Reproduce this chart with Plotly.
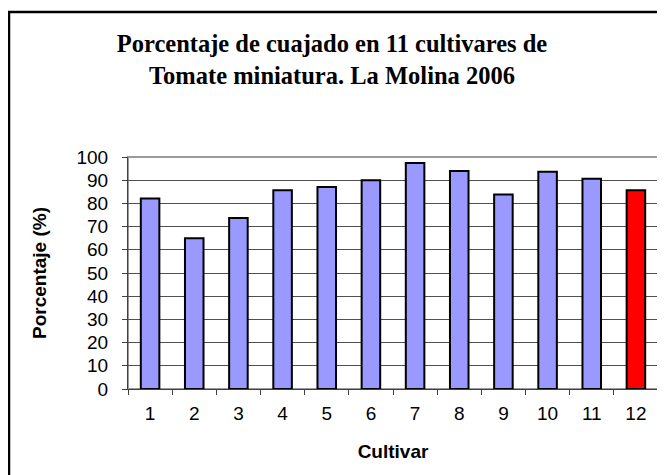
import plotly.graph_objects as go

cultivares = ["1", "2", "3", "4", "5", "6", "7", "8", "9", "10", "11", "12"]
porcentaje = [82.1, 65.0, 73.7, 85.7, 87.1, 90.0, 97.4, 94.0, 83.8, 93.6, 90.6, 85.7]
y_ticks = [0, 10, 20, 30, 40, 50, 60, 70, 80, 90, 100]

colors = ["#9999FF"] * (len(cultivares) - 1) + ["#FF0000"]

fig = go.Figure(
    go.Bar(
        x=cultivares,
        y=porcentaje,
        marker=dict(color=colors, line=dict(color="black", width=2)),
        width=0.42,
    )
)

# page has an 8px body margin; figure sized to fill the rest of the window
W, H = 657, 467
L, R, T, B = 120, 7, 149, 86
pw, ph = W - L - R, H - T - B

def px_to_paper_x(x):
    return (x - L) / pw

def px_to_paper_y(y):
    return (H - B - y) / ph

fig.update_layout(
    width=W,
    height=H,
    margin=dict(l=L, r=R, t=T, b=B, autoexpand=False),
    paper_bgcolor="white",
    plot_bgcolor="white",
    showlegend=False,
    title=dict(
        text="Porcentaje de cuajado en 11 cultivares de<br>Tomate miniatura. La Molina 2006",
        font=dict(family="Liberation Serif, Times New Roman, serif", size=24.5, color="black", weight="bold"),
        x=(332 - 8) / W,
        xref="container",
        xanchor="center",
        y=1 - 44 / H,
        yanchor="top",
    ),
    font=dict(family="Arial, Liberation Sans, sans-serif", color="black"),
    xaxis=dict(
        type="category",
        tickvals=cultivares,
        ticktext=cultivares,
        showline=True,
        linecolor="#404040",
        linewidth=1,
        ticks="outside",
        tickson="boundaries",
        ticklen=5,
        tickcolor="#404040",
        tickfont=dict(size=19),
        ticklabelstandoff=7,
        title=dict(text="<b>Cultivar</b>", font=dict(size=19), standoff=21),
        showgrid=False,
    ),
    yaxis=dict(
        range=[0, 100],
        tickvals=y_ticks,
        showline=True,
        linecolor="#404040",
        linewidth=1,
        ticks="outside",
        ticklen=5,
        tickcolor="#404040",
        tickfont=dict(size=19),
        ticklabelstandoff=10,
        showgrid=True,
        gridcolor="#505050",
        gridwidth=1,
        zeroline=False,
        title=dict(text="<b>Porcentaje (%)</b>", font=dict(size=19), standoff=24),
    ),
    shapes=[
        dict(type="rect", xref="paper", yref="paper", x0=0, y0=0, x1=1, y1=1,
             line=dict(color="#9a9a9a", width=2), layer="below"),
        dict(type="rect", xref="paper", yref="paper",
             x0=px_to_paper_x(1), x1=px_to_paper_x(670),
             y0=px_to_paper_y(480), y1=px_to_paper_y(4),
             line=dict(color="black", width=2.5)),
    ],
)

fig.write_html("out.html")
